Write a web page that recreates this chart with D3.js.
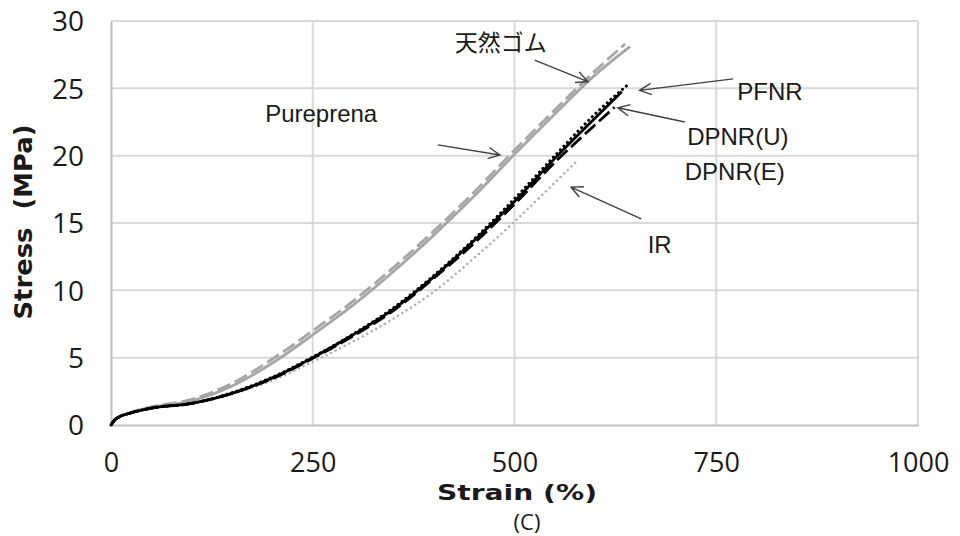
<!DOCTYPE html>
<html><head><meta charset="utf-8">
<script src="https://cdn.jsdelivr.net/npm/d3@7"></script>
<style>body{margin:0;background:#fff}svg{display:block}</style>
</head><body>
<svg id="chart" width="960" height="536"></svg>
<script>
// ---- data ----
const xTicks = [0, 250, 500, 750, 1000];
const yTicks = [0, 5, 10, 15, 20, 25, 30];

const natStrain = [0, 5, 10, 25, 50, 100, 150, 200, 250, 300, 350, 400, 450, 500, 550, 600, 643];
const natStress = [0, 0.4, 0.6, 0.95, 1.3, 1.8, 2.9, 4.6, 6.7, 8.9, 11.4, 14.1, 17.0, 20.1, 23.1, 26.0, 28.1];

const pureStrain = [0, 5, 10, 25, 50, 100, 150, 200, 250, 300, 350, 400, 450, 500, 550, 600, 637];
const pureStress = [0, 0.4, 0.6, 0.95, 1.35, 1.9, 3.1, 4.9, 7.0, 9.2, 11.7, 14.4, 17.3, 20.4, 23.4, 26.3, 28.3];

const pfnrStrain = [0, 5, 10, 25, 50, 100, 150, 200, 250, 300, 350, 400, 450, 500, 550, 600, 643];
const pfnrStress = [0, 0.4, 0.6, 0.9, 1.25, 1.6, 2.4, 3.55, 5.05, 6.75, 8.7, 11.1, 13.8, 16.8, 20.0, 23.1, 25.4];

const dpnrUStrain = [0, 5, 10, 25, 50, 100, 150, 200, 250, 300, 350, 400, 450, 500, 550, 600, 633];
const dpnrUStress = [0, 0.4, 0.6, 0.9, 1.25, 1.6, 2.35, 3.5, 5.0, 6.7, 8.6, 11.0, 13.7, 16.6, 19.8, 22.8, 24.75];

const dpnrEStrain = [0, 5, 10, 25, 50, 100, 150, 200, 250, 300, 350, 400, 450, 500, 550, 600, 624];
const dpnrEStress = [0, 0.4, 0.6, 0.9, 1.25, 1.6, 2.35, 3.45, 4.95, 6.6, 8.5, 10.9, 13.5, 16.4, 19.5, 22.3, 23.6];

const irStrain = [0, 5, 10, 25, 50, 100, 150, 200, 250, 300, 350, 400, 450, 500, 550, 579];
const irStress = [0, 0.4, 0.6, 0.9, 1.25, 1.6, 2.3, 3.3, 4.7, 6.2, 7.9, 9.9, 12.4, 15.1, 18.0, 19.7];

const labelNames = ["天然ゴム", "Pureprena", "PFNR", "DPNR(U)", "DPNR(E)", "IR"];
const labelX = [426, 191, 776, 714, 711, 665];
const labelY = [27.8, 22.5, 24.1, 20.8, 18.2, 12.8];

// arrows: from (x1,y1) to (x2,y2) in data units
const arrowX1 = [525, 405, 771, 711, 657];
const arrowY1 = [27.1, 20.8, 25.7, 22.5, 15.3];
const arrowX2 = [591, 482, 655, 628, 570];
const arrowY2 = [25.5, 20.05, 24.85, 23.56, 17.67];

// ---- layout ----
const W = 960, H = 536;
const m = {l: 111, r: 42, t: 21, b: 111};
const svg = d3.select("#chart");
const x = d3.scaleLinear().domain([0, 1000]).range([m.l, W - m.r]);
const y = d3.scaleLinear().domain([0, 30]).range([H - m.b, m.t]);

const gridColor = "#d9d9d9";
// grid
svg.append("g").selectAll("line").data(yTicks.filter(d => d > 0)).join("line")
  .attr("x1", x(0)).attr("x2", x(1000)).attr("y1", d => y(d)).attr("y2", d => y(d))
  .attr("stroke", gridColor).attr("stroke-width", 2);
svg.append("g").selectAll("line").data(xTicks.filter(d => d > 0)).join("line")
  .attr("x1", d => x(d)).attr("x2", d => x(d)).attr("y1", y(0)).attr("y2", y(30))
  .attr("stroke", gridColor).attr("stroke-width", 2);

// axes
const xAxis = d3.axisBottom(x).tickValues(xTicks).tickFormat(d3.format("d")).tickSize(0).tickPadding(0);
const yAxis = d3.axisLeft(y).tickValues(yTicks).tickFormat(d3.format("d")).tickSize(0).tickPadding(0);
const gx = svg.append("g").attr("transform", `translate(0,${y(0)})`).call(xAxis);
const gy = svg.append("g").attr("transform", `translate(${x(0)},0)`).call(yAxis);
[gx, gy].forEach(g => {
  g.select(".domain").attr("stroke", "#bfbfbf").attr("stroke-width", 2);
  g.selectAll("text").attr("font-family", "'Open Sans', sans-serif").attr("font-size", 28).attr("fill", "#1a1a1a");
});
gx.selectAll("text").attr("dy", null).attr("y", 47).attr("font-size", 27);
gy.selectAll("text").attr("x", -27).attr("dy", "0.35em");

// series
const line = d3.line().x(d => x(d[0])).y(d => y(d[1])).curve(d3.curveMonotoneX);
const zip = (a, b) => a.map((v, i) => [v, b[i]]);
const series = [
  {xs: irStrain, ys: irStress, color: "#b0b0b0", dash: "0.1 5", w: 2.5, cap: "round"},
  {xs: natStrain, ys: natStress, color: "#a6a6a6", dash: null, w: 2.8, cap: "butt"},
  {xs: pureStrain, ys: pureStress, color: "#a6a6a6", dash: "14 5", w: 2.8, cap: "butt"},
  {xs: dpnrEStrain, ys: dpnrEStress, color: "#000", dash: "14 5", w: 2.8, cap: "butt"},
  {xs: dpnrUStrain, ys: dpnrUStress, color: "#000", dash: null, w: 2.8, cap: "butt"},
  {xs: pfnrStrain, ys: pfnrStress, color: "#000", dash: "0.1 5", w: 3, cap: "round"}
];
svg.append("g").selectAll("path").data(series).join("path")
  .attr("d", s => line(zip(s.xs, s.ys)))
  .attr("fill", "none").attr("stroke", s => s.color).attr("stroke-width", s => s.w)
  .attr("stroke-dasharray", s => s.dash).attr("stroke-linecap", s => s.cap);

// arrows
const ag = svg.append("g").attr("stroke", "#404040").attr("stroke-width", 1.4).attr("fill", "none");
arrowX1.forEach((v, i) => {
  const x1 = x(v), y1 = y(arrowY1[i]), x2 = x(arrowX2[i]), y2 = y(arrowY2[i]);
  const ang = Math.atan2(y2 - y1, x2 - x1), L = 13, a = 0.45;
  const p1 = [x2 - L * Math.cos(ang - a), y2 - L * Math.sin(ang - a)];
  const p2 = [x2 - L * Math.cos(ang + a), y2 - L * Math.sin(ang + a)];
  ag.append("path").attr("d", `M${x1},${y1}L${x2},${y2}M${p1[0]},${p1[1]}L${x2},${y2}L${p2[0]},${p2[1]}`);
});

// labels
svg.append("g").selectAll("text").data(labelNames).join("text")
  .attr("x", (d, i) => x(labelX[i])).attr("y", (d, i) => y(labelY[i]))
  .attr("font-family", (d, i) => i === 0 ? "'Noto Sans CJK JP', sans-serif" : "'Liberation Sans', Arial, sans-serif")
  .attr("font-size", (d, i) => i === 0 ? 23 : 24).attr("fill", "#1a1a1a")
  .text(d => d);

// axis titles
svg.append("text").attr("x", 517).attr("y", 500).attr("text-anchor", "middle")
  .attr("font-family", "'DejaVu Sans', sans-serif").attr("font-weight", "bold").attr("font-size", 21)
  .attr("textLength", 160).attr("lengthAdjust", "spacingAndGlyphs").attr("fill", "#1a1a1a")
  .text("Strain (%)");
svg.append("text").attr("x", 527).attr("y", 530).attr("text-anchor", "middle")
  .attr("font-family", "'Open Sans', sans-serif").attr("font-size", 22).attr("fill", "#1a1a1a")
  .text("(C)");
const yt = svg.append("text").attr("transform", "translate(32,222) rotate(-90)").attr("text-anchor", "middle")
  .attr("font-family", "'DejaVu Sans', sans-serif").attr("font-weight", "bold").attr("font-size", 24)
  .attr("textLength", 195).attr("lengthAdjust", "spacingAndGlyphs").attr("fill", "#1a1a1a");
yt.text("Stress  (MPa)").attr("xml:space", "preserve").style("white-space", "pre");
</script>
</body></html>
